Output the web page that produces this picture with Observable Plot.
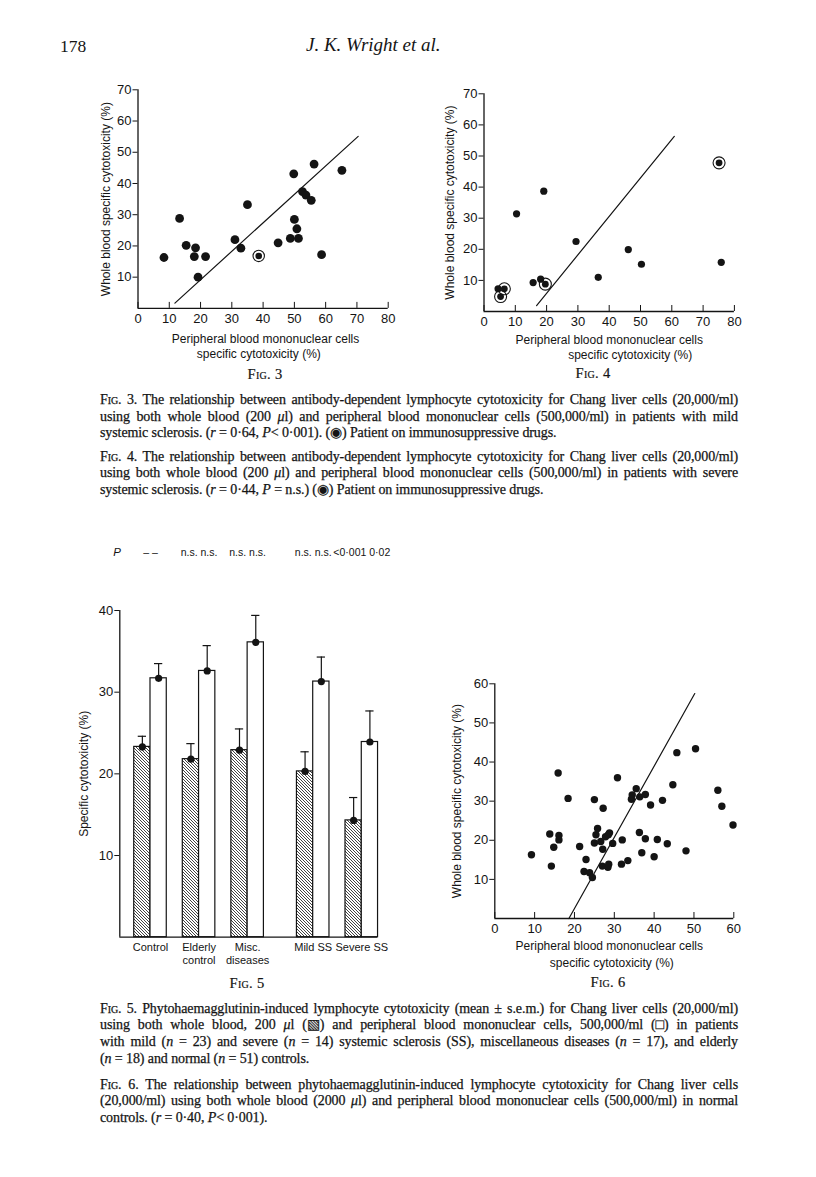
<!DOCTYPE html>
<html><head><meta charset="utf-8">
<script src="https://cdn.jsdelivr.net/npm/d3@7"></script>
<script src="https://cdn.jsdelivr.net/npm/@observablehq/plot@0.6"></script>
<style>
html,body{margin:0;padding:0;background:#fff;}
body{width:816px;height:1177px;position:relative;overflow:hidden;color:#141414;font-family:"Liberation Serif","Times New Roman",serif;}
.box{position:absolute;}
.box svg{overflow:visible;}
.figlab{position:absolute;font-size:14.5px;transform:translate(-50%,-50%);white-space:nowrap;letter-spacing:0.3px;-webkit-text-stroke:0.2px #141414}
.sc{font-variant:small-caps}
.cap{position:absolute;left:100px;width:638px;font-size:14px;line-height:16.7px;letter-spacing:-0.1px;-webkit-text-stroke:0.25px #141414}
.cap .ln{white-space:nowrap;height:16.7px}
.hdr{position:absolute;white-space:nowrap}
</style></head><body>
<div class="hdr" style="left:60px;top:36px;font-size:17.5px">178</div>
<div class="hdr" style="left:306px;top:34px;font-size:19px;font-style:italic">J. K. Wright et al.</div>

<div id="f3" class="box" style="left:90px;top:75px;width:320px;height:300px"></div>
<div id="f4" class="box" style="left:430px;top:80px;width:330px;height:300px"></div>
<div class="figlab" style="left:265px;top:374px"><span class="sc">Fig</span>. 3</div>
<div class="figlab" style="left:593px;top:373px"><span class="sc">Fig</span>. 4</div>

<div class="cap" style="top:392px">
<div class="ln j"><span><span class="sc">Fig</span>. 3. The relationship between antibody-dependent lymphocyte cytotoxicity for Chang liver cells (20,000/ml)</span></div>
<div class="ln j"><span>using both whole blood (200 <i>μ</i>l) and peripheral blood mononuclear cells (500,000/ml) in patients with mild</span></div>
<div class="ln"><span>systemic sclerosis. (<i>r</i> = 0·64, <i>P</i>&lt; 0·001). (◉) Patient on immunosuppressive drugs.</span></div>
</div>
<div class="cap" style="top:448.5px">
<div class="ln j"><span><span class="sc">Fig</span>. 4. The relationship between antibody-dependent lymphocyte cytotoxicity for Chang liver cells (20,000/ml)</span></div>
<div class="ln j"><span>using both whole blood (200 <i>μ</i>l) and peripheral blood mononuclear cells (500,000/ml) in patients with severe</span></div>
<div class="ln"><span>systemic sclerosis. (<i>r</i> = 0·44, <i>P</i> = n.s.) (◉) Patient on immunosuppressive drugs.</span></div>
</div>

<div id="f5" class="box" style="left:60px;top:530px;width:340px;height:440px"></div>
<div id="f6" class="box" style="left:440px;top:670px;width:310px;height:330px"></div>
<div class="figlab" style="left:247px;top:983px"><span class="sc">Fig</span>. 5</div>
<div class="figlab" style="left:608px;top:982px"><span class="sc">Fig</span>. 6</div>

<div class="cap" style="top:1000.5px">
<div class="ln j"><span><span class="sc">Fig</span>. 5. Phytohaemagglutinin-induced lymphocyte cytotoxicity (mean ± s.e.m.) for Chang liver cells (20,000/ml)</span></div>
<div class="ln j"><span>using both whole blood, 200 <i>μ</i>l (▧) and peripheral blood mononuclear cells, 500,000/ml (□) in patients</span></div>
<div class="ln j"><span>with mild (<i>n</i> = 23) and severe (<i>n</i> = 14) systemic sclerosis (SS), miscellaneous diseases (<i>n</i> = 17), and elderly</span></div>
<div class="ln"><span>(<i>n</i> = 18) and normal (<i>n</i> = 51) controls.</span></div>
</div>
<div class="cap" style="top:1076.5px">
<div class="ln j"><span><span class="sc">Fig</span>. 6. The relationship between phytohaemagglutinin-induced lymphocyte cytotoxicity for Chang liver cells</span></div>
<div class="ln j"><span>(20,000/ml) using both whole blood (2000 <i>μ</i>l) and peripheral blood mononuclear cells (500,000/ml) in normal</span></div>
<div class="ln"><span>controls. (<i>r</i> = 0·40, <i>P</i>&lt; 0·001).</span></div>
</div>

<script>
// ---------------- DATA ----------------
// Fig. 3 — mild systemic sclerosis (n = 23)
const fig3X = [8.3, 13.3, 15.4, 18.4, 18.0, 21.6, 19.2, 31.0, 32.9, 35.0, 38.6, 44.8, 48.7, 51.3, 50.0, 50.8, 49.8, 52.6, 53.7, 55.4, 56.3, 58.7, 65.2];
const fig3Y = [16.3, 28.8, 20.2, 19.4, 16.6, 16.6, 10.0, 22.0, 19.3, 33.2, 16.8, 21.0, 22.4, 22.4, 28.5, 25.5, 43.1, 37.4, 36.3, 34.6, 46.2, 17.2, 44.2];
const fig3DrugIdx = [10];
const fig3FitX = [11.8, 70.4];
const fig3FitY = [1.7, 55.1];

// Fig. 4 — severe systemic sclerosis (n = 14)
const fig4X = [4.5, 6.5, 5.3, 10.4, 15.7, 18.1, 19.6, 19.1, 29.4, 36.5, 46.1, 50.3, 75.1, 75.8];
const fig4Y = [7.3, 7.3, 4.8, 31.4, 9.3, 10.4, 8.8, 38.7, 22.5, 11.0, 19.9, 15.2, 47.8, 15.8];
const fig4DrugIdx = [1, 2, 6, 12];
const fig4FitX = [16.8, 60.8];
const fig4FitY = [1.9, 56.3];

// Fig. 5 — PHA-induced cytotoxicity, mean ± s.e.m.
const groups = ["Control", "Elderly\ncontrol", "Misc.\ndiseases", "Mild SS", "Severe SS"];
const wholeMean = [23.3, 21.8, 22.9, 20.3, 14.3];
const wholeSem  = [1.3, 1.9, 2.6, 2.4, 2.8];
const pbmcMean  = [31.7, 32.6, 36.1, 31.3, 23.9];
const pbmcSem   = [1.8, 3.1, 3.3, 3.0, 3.8];
const pWhole = ["–", "n.s.", "n.s.", "n.s.", "<0·001"];
const pPbmc  = ["–", "n.s.", "n.s.", "n.s.", "0·02"];
const fig5Ticks = [10, 20, 30, 40];

// Fig. 6 — normal controls (n = 51)
const fig6X = [9.2, 13.8, 14.2, 14.8, 16.1, 16.1, 15.9, 18.4, 21.3, 22.9, 22.4, 23.8, 24.5, 25.0, 25.0, 25.4, 25.8, 27.2, 26.6, 27.1, 27.0, 27.8, 28.5, 28.8, 28.4, 28.6, 29.6, 30.8, 32.0, 31.8, 33.4, 34.3, 34.5, 35.5, 36.4, 37.8, 36.3, 36.9, 37.8, 39.1, 40.0, 40.8, 42.1, 43.3, 44.7, 45.7, 48.0, 50.4, 56.0, 57.0, 59.8];
const fig6Y = [16.3, 21.6, 13.4, 18.2, 21.2, 20.1, 37.2, 30.7, 18.4, 15.1, 12.0, 11.7, 10.5, 30.4, 19.3, 21.4, 23.0, 28.2, 19.7, 17.7, 13.4, 20.9, 21.4, 21.9, 13.1, 13.9, 19.2, 36.0, 20.1, 13.9, 14.8, 30.5, 31.6, 33.2, 31.1, 31.7, 22.0, 16.8, 20.4, 29.0, 15.8, 20.2, 30.2, 19.1, 34.2, 42.4, 17.3, 43.4, 32.8, 28.7, 23.9];
const fig6DrugIdx = [];
const fig6FitX = [18.6, 50.2];
const fig6FitY = [0, 57.5];

const scatterTicksX80 = [0, 10, 20, 30, 40, 50, 60, 70, 80];
const scatterTicksY70 = [10, 20, 30, 40, 50, 60, 70];
const scatterTicksX60 = [0, 10, 20, 30, 40, 50, 60];
const scatterTicksY60 = [10, 20, 30, 40, 50, 60];

const yTitleWB = "Whole blood specific cytotoxicity (%)";
const xTitlePB = ["Peripheral blood mononuclear cells", "specific cytotoxicity (%)"];

// ---------------- DRAWING ----------------
const INK = "#141414";
const SANS = "'Liberation Sans', Arial, sans-serif";

function scatter(c) {
  const pts = c.X.map((x, i) => ({x, y: c.Y[i], drug: c.drugIdx.includes(i)}));
  const fit = c.fitX.map((x, i) => ({x, y: c.fitY[i]}));
  return Plot.plot({
    width: c.w, height: c.h,
    marginLeft: c.ml, marginRight: c.mr, marginTop: c.mt, marginBottom: c.mb,
    style: {background: "transparent", fontFamily: SANS, fontSize: "13px", color: INK, overflow: "visible"},
    x: {domain: c.xDomain, ticks: c.xTicks, tickSize: -6, tickPadding: 11.5, label: null, tickFormat: d => String(d)},
    y: {domain: c.yDomain, ticks: c.yTicks, tickSize: 5, tickPadding: 1.5, label: null, tickFormat: d => String(d)},
    marks: [
      Plot.ruleX([c.xDomain[0]], {stroke: INK, strokeWidth: 1.3}),
      Plot.ruleY([c.yDomain[0]], {stroke: INK, strokeWidth: 1.3}),
      Plot.line(fit, {x: "x", y: "y", stroke: INK, strokeWidth: 1.2}),
      Plot.dot(pts, {filter: d => !d.drug, x: "x", y: "y", r: c.r, fill: INK}),
      Plot.dot(pts, {filter: d => d.drug, x: "x", y: "y", r: c.rIn, fill: INK}),
      Plot.dot(pts, {filter: d => d.drug, x: "x", y: "y", r: c.rRing, fill: "none", stroke: INK, strokeWidth: 1.1}),
      Plot.text([yTitleWB], {text: d => d, frameAnchor: "left", rotate: -90, dx: c.ytDx, fontSize: 12, lineAnchor: "middle", textAnchor: "middle"}),
      Plot.text([xTitlePB[0]], {text: d => d, frameAnchor: "bottom", dx: c.xt1[0], dy: c.xt1[1], fontSize: 12, lineAnchor: "middle", textAnchor: "middle"}),
      Plot.text([xTitlePB[1]], {text: d => d, frameAnchor: "bottom", dx: c.xt2[0], dy: c.xt2[1], fontSize: 12, lineAnchor: "middle", textAnchor: "middle"})
    ]
  });
}

document.getElementById("f3").append(scatter({
  X: fig3X, Y: fig3Y, drugIdx: fig3DrugIdx, fitX: fig3FitX, fitY: fig3FitY,
  w: 320, h: 300, ml: 47.5, mr: 22.3, mt: 14.3, mb: 67.1,
  xDomain: [0, 80], yDomain: [0, 70], xTicks: scatterTicksX80, yTicks: scatterTicksY70,
  r: 4.4, rIn: 3.3, rRing: 5.7, ytDx: -31.5, xt1: [2.4, 30.4], xt2: [-4.3, 45.4]
}));

document.getElementById("f4").append(scatter({
  X: fig4X, Y: fig4Y, drugIdx: fig4DrugIdx, fitX: fig4FitX, fitY: fig4FitY,
  w: 330, h: 300, ml: 53.5, mr: 26.1, mt: 13.3, mb: 69,
  xDomain: [0, 80], yDomain: [0, 70], xTicks: scatterTicksX80, yTicks: scatterTicksY70,
  r: 3.6, rIn: 3.4, rRing: 6, ytDx: -33.5, xt1: [0, 28.5], xt2: [21, 43.5]
}));

document.getElementById("f6").append(scatter({
  X: fig6X, Y: fig6Y, drugIdx: fig6DrugIdx, fitX: fig6FitX, fitY: fig6FitY,
  w: 310, h: 330, ml: 54.3, mr: 16.7, mt: 13.3, mb: 82,
  xDomain: [0, 60], yDomain: [0, 60], xTicks: scatterTicksX60, yTicks: scatterTicksY60,
  r: 3.7, rIn: 3.7, rRing: 6, ytDx: -37.6, xt1: [-5, 28], xt2: [-2.5, 44.7]
}));

// Fig. 5 bar chart
const GAP = 0.35;      // extra space between "Misc." and "Mild SS" groups (in group steps)
const HW = 0.335;      // bar width (in group steps)
const CAP = 0.085;     // half-width of error-bar caps
const pos = groups.map((g, i) => i + (i >= 3 ? GAP : 0));
const rows = groups.map((g, i) => ({
  g, c: pos[i],
  wm: wholeMean[i], ws: wholeSem[i], pm: pbmcMean[i], ps: pbmcSem[i],
  p: pWhole[i] + " " + pPbmc[i],
  l1: g.split("\n")[0], l2: g.split("\n")[1] || ""
}));
const wc = d => d.c - HW / 2, pc = d => d.c + HW / 2;
const X0 = -0.632, X1 = pos[pos.length - 1] + 0.33;

const svg5 = Plot.plot({
  width: 340, height: 440,
  marginLeft: 59.3, marginRight: 22.7, marginTop: 80, marginBottom: 33.3,
  style: {background: "transparent", fontFamily: SANS, fontSize: "13px", color: INK, overflow: "visible"},
  x: {domain: [X0, X1], axis: null},
  y: {domain: [0, 40], ticks: fig5Ticks, tickSize: 5, tickPadding: 1.5, label: null, tickFormat: d => String(d)},
  marks: [
    Plot.rect(rows, {x1: d => d.c - HW, x2: d => d.c, y1: () => 0, y2: "wm", fill: "url(#hatch)", stroke: INK, strokeWidth: 1.2}),
    Plot.rect(rows, {x1: d => d.c, x2: d => d.c + HW, y1: () => 0, y2: "pm", fill: "#fff", stroke: INK, strokeWidth: 1.2}),
    Plot.ruleX(rows, {x: wc, y1: "wm", y2: d => d.wm + d.ws, stroke: INK, strokeWidth: 1.2}),
    Plot.ruleY(rows, {y: d => d.wm + d.ws, x1: d => wc(d) - CAP, x2: d => wc(d) + CAP, stroke: INK, strokeWidth: 1.2}),
    Plot.ruleX(rows, {x: pc, y1: "pm", y2: d => d.pm + d.ps, stroke: INK, strokeWidth: 1.2}),
    Plot.ruleY(rows, {y: d => d.pm + d.ps, x1: d => pc(d) - CAP, x2: d => pc(d) + CAP, stroke: INK, strokeWidth: 1.2}),
    Plot.dot(rows, {x: wc, y: "wm", r: 3.6, fill: INK}),
    Plot.dot(rows, {x: pc, y: "pm", r: 3.6, fill: INK}),
    Plot.ruleX([X0], {stroke: INK, strokeWidth: 1.3}),
    Plot.ruleY([0], {stroke: INK, strokeWidth: 1.3}),
    Plot.text(rows, {x: "c", y: () => 0, text: "l1", dy: 10.6, fontSize: 11, lineAnchor: "middle", textAnchor: "middle"}),
    Plot.text(rows, {x: "c", y: () => 0, text: "l2", dy: 23.3, fontSize: 11, lineAnchor: "middle", textAnchor: "middle"}),
    Plot.text(rows, {x: "c", y: () => 40, text: "p", dy: -58.3, fontSize: 10.5, lineAnchor: "middle", textAnchor: "middle"}),
    Plot.text(["P"], {text: d => d, frameAnchor: "top-left", dx: -2.6, dy: -58.3, fontSize: 11.5, fontStyle: "italic", lineAnchor: "middle", textAnchor: "middle"}),
    Plot.text(["Specific cytotoxicity (%)"], {text: d => d, frameAnchor: "left", rotate: -90, dx: -36, fontSize: 12, lineAnchor: "middle", textAnchor: "middle"})
  ]
});
const defs = d3.select(svg5).insert("defs", ":first-child");
const pat = defs.append("pattern").attr("id", "hatch").attr("patternUnits", "userSpaceOnUse").attr("width", 3).attr("height", 3);
pat.append("rect").attr("width", 3).attr("height", 3).attr("fill", "#fff");
pat.append("path").attr("d", "M-1,-1L4,4M-1,2L1,4M2,-1L4,1").attr("stroke", INK).attr("stroke-width", 0.8);
document.getElementById("f5").append(svg5);

// justify caption lines to the text block width
document.querySelectorAll(".cap .j").forEach(el => {
  const span = el.firstElementChild;
  const w = span.getBoundingClientRect().width;
  const n = (span.textContent.match(/ /g) || []).length;
  if (n) el.style.wordSpacing = ((638 - w) / n) + "px";
});
</script>
</body></html>
